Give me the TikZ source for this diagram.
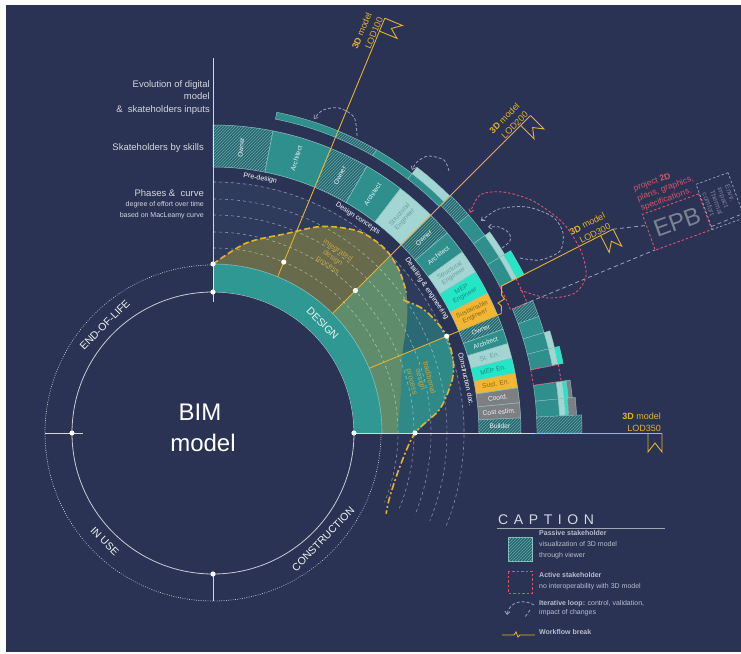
\documentclass[tikz,border=0pt]{standalone}
\usepackage{fontspec}
\setmainfont{Liberation Sans}
\newfontfamily\capfont[LetterSpace=40]{Liberation Sans}
\usetikzlibrary{patterns,arrows.meta}

\definecolor{navy}{HTML}{2A3353}
\definecolor{gridnavy}{HTML}{2F3B5D}
\definecolor{bandteal}{HTML}{2F9893}
\definecolor{architeal}{HTML}{2E8F8C}
\definecolor{hatchteal}{HTML}{2A6670}
\definecolor{hatchline}{HTML}{5FA8A8}
\definecolor{paleteal}{HTML}{A3D6D3}
\definecolor{mepcyan}{HTML}{22E6C6}
\definecolor{sustyellow}{HTML}{F2B632}
\definecolor{coordgrey}{HTML}{7E7F83}
\definecolor{lodgold}{HTML}{E3B22E}
\definecolor{curvegold}{HTML}{C9A43F}
\definecolor{activered}{HTML}{D9546B}
\definecolor{loopgrey}{HTML}{98A2BF}
\definecolor{intolive}{HTML}{676A4B}
\definecolor{intgreen}{HTML}{5F8C6B}
\definecolor{tradteal}{HTML}{2B6A74}
\definecolor{tradmid}{HTML}{2F8987}
\definecolor{labelgrey}{HTML}{D4D7DF}
\definecolor{legendgrey}{HTML}{B9BDCC}
\definecolor{tilelineteal}{HTML}{8FC4C3}
\definecolor{tilewhite}{HTML}{EEF3F3}
\definecolor{structtxt}{HTML}{6C9CA1}
\definecolor{meptxt}{HTML}{1B8C82}
\definecolor{susttxt}{HTML}{8A6A1E}
\definecolor{epbgrey}{HTML}{7D8293}

% ring sector: start angle, end angle, inner radius, outer radius
\newcommand\annul[4]{(#1:#3) arc[start angle=#1, end angle=#2, radius=#3] -- (#2:#4) arc[start angle=#2, end angle=#1, radius=#4] -- cycle}

% LOD flag at the end of a phase line
\newcommand\lodflag[2]{%
  \begin{scope}[rotate=#1]
    \draw[lodline] (435,0) -- (435,-19) -- (442,-10) -- (449,-19) -- (449,0);
    \node[lodlabel, rotate=#1] (#2) at (449,0) {\textbf{3D} model\\#2};
  \end{scope}}

\tikzset{
  kind/.style={#1},
  tile/.style={draw=tilelineteal, line width=.5pt},
  evo/.style={draw=tilelineteal, line width=.4pt},
  hatch/.style={fill=hatchteal, postaction={pattern=north east lines, pattern color=hatchline}},
  archi/.style={fill=architeal},
  struct/.style={fill=paleteal},
  mep/.style={fill=mepcyan},
  sust/.style={fill=sustyellow},
  coord/.style={fill=coordgrey},
  tilelabel/.style={font=\fontsize{6.6}{7}\selectfont, align=center, inner sep=0pt},
  phaselabel/.style={text=white, font=\fontsize{7}{8}\selectfont, inner sep=0pt},
  cyclelabel/.style={text=tilewhite, font=\fontsize{10.5}{12}\selectfont},
  curvelabel/.style={text=curvegold, font=\fontsize{7.5}{9}\selectfont, align=center},
  sidelabel/.style={text=labelgrey, align=right, inner sep=0pt},
  bimtext/.style={text=white, font=\fontsize{24}{26}\selectfont},
  gridarc/.style={white, opacity=.45, line width=.6pt, dash pattern=on 3pt off 3pt},
  axisline/.style={white, opacity=.8, line width=.7pt},
  lodline/.style={lodgold, line width=.9pt},
  lodlabel/.style={anchor=south east, align=right, text=lodgold, font=\fontsize{9}{12}\selectfont, inner sep=1pt},
  integrated/.style={lodgold, line width=1.6pt, dash pattern=on 6pt off 3pt},
  traditional/.style={lodgold, line width=1.6pt, dash pattern=on 7pt off 2.5pt on 2pt off 2.5pt},
  active/.style={activered, line width=.9pt, dash pattern=on 2.5pt off 2pt},
  iterloop/.style={loopgrey, line width=.8pt, dash pattern=on 3pt off 2pt, -{Straight Barb[length=3pt,width=5pt]}},
  greydash/.style={loopgrey, line width=.8pt, dash pattern=on 4pt off 3pt},
  epbbox/.style={draw=activered, line width=.9pt, dash pattern=on 2.5pt off 2pt, fill=navy, text=epbgrey, font=\fontsize{24}{24}\selectfont, inner sep=0pt},
  envbox/.style={draw=loopgrey, line width=.7pt, dash pattern=on 2.5pt off 2pt},
  legendtext/.style={text=legendgrey, font=\fontsize{7}{11}\selectfont, align=left, inner sep=0pt},
}

\begin{document}
\begin{tikzpicture}[x=1pt,y=1pt]
\useasboundingbox (-213,-220) rectangle (528,433);
\fill[white] (-213,-220) rectangle (528,433);
\fill[navy] (-207,-219) rectangle (528,428);

%% LIFE CYCLE
\draw[white, opacity=.75, line width=.8pt, line cap=round, dash pattern=on .3pt off 2pt] (0,0) circle[radius=168];
\draw[white, opacity=.75, line width=.8pt] (0,0) circle[radius=141];

%% PHASES & CURVE
\fill[gridnavy] \annul{0}{90}{169}{252};

% traditional process
\begin{scope}
  \clip (45:169) -- plot[smooth] coordinates {(45:201.5) (40:215) (35:232) (31:243) (27:249) (22.5:253) (17:251) (12.5:245) (6:228) (0:202)} -- (0:169) arc[start angle=0, end angle=45, radius=169] -- cycle;
  \fill[tradmid] \annul{0}{22.5}{160}{262};
  \fill[tradteal] \annul{22.5}{45}{160}{262};
\end{scope}

% integrated process
\begin{scope}
  \clip (0:169) arc[start angle=0, end angle=90, radius=169] -- plot[smooth] coordinates {(90:169) (80:193) (70:212) (62:234) (54:249) (47:252) (41:247) (36:239) (30:224) (23:206) (12:192) (0:184)} -- cycle;
  \fill[intolive] \annul{45}{90}{160}{262};
  \fill[intgreen] \annul{0}{45}{160}{262};
\end{scope}

% effort grid
\foreach \r in {185,201,218,234,251}
  \draw[gridarc] (90:\r) arc[start angle=90, end angle=-22, radius=\r];

% DESIGN band
\fill[bandteal] \annul{0}{90}{141}{169};
\draw[paleteal, opacity=.7, line width=.6pt] (0:169) arc[start angle=0, end angle=90, radius=169];

%% STAKEHOLDERS BY SKILLS
\foreach \a/\b/\k/\c/\t [count=\i] in {
  90/78.75/hatch/tilewhite/Owner, 78.75/67.5/archi/tilewhite/Architect,
  67.5/60/hatch/tilewhite/Owner, 60/52.5/archi/tilewhite/Architect, 52.5/45/struct/structtxt/{Structural\\Engineer},
  45/40.5/hatch/tilewhite/Owner, 40.5/36/archi/tilewhite/Architect, 36/31.5/struct/structtxt/{Structural\\Engineer},
  31.5/27/mep/meptxt/{MEP\\Engineer}, 27/22.5/sust/susttxt/{Sustainable\\Engineer},
  22.5/19.6875/hatch/tilewhite/Owner, 19.6875/16.875/archi/tilewhite/Architect, 16.875/14.0625/struct/structtxt/St. En.,
  14.0625/11.25/mep/meptxt/MEP En., 11.25/8.4375/sust/susttxt/Sust. En., 8.4375/5.625/coord/tilewhite/Coord.,
  5.625/2.8125/coord/tilewhite/Cost estim., 2.8125/0/hatch/tilewhite/Builder}{
  \pgfmathsetmacro\m{(\a+\b)/2}
  \path[tile, kind/.expand once=\k] \annul{\a}{\b}{266}{308};
  \node[tilelabel, text=\c, rotate=\m] (skill\i) at (\m:287) {\t};
}

% phase names
\node[phaselabel, rotate=-10.5] (predesign) at (79.5:259) {Pre-design};
\node[phaselabel, rotate=-34] (concepts) at (56:259) {Design concepts};
\node[phaselabel, rotate=-56] (detailing) at (34:258) {Detailing \& engineering};
\node[phaselabel, rotate=-78] (constrdoc) at (12:259) {Construction doc.};

%% EVOLUTION OF DIGITAL MODEL
\foreach \a/\b/\k/\r/\s in {
  78.75/67.5/archi/320/327,
  67.5/60/hatch/320/327, 60/52.5/archi/320/327, 52.5/45/archi/320/327, 52.5/45/struct/327/335,
  45/40.5/hatch/322/336, 40.5/36/archi/322/336, 36/31.5/archi/322/336, 36/31.5/struct/336/342,
  31.5/27/archi/322/336, 31.5/27/struct/336/341, 31.5/27/mep/341/349,
  22.5/19.6875/hatch/324/346, 19.6875/16.875/archi/324/346,
  16.875/14.0625/archi/324/346, 16.875/14.0625/struct/346/352,
  14.0625/11.25/archi/324/346, 14.0625/11.25/struct/346/352, 14.0625/11.25/mep/352/357,
  8.4375/5.625/archi/324/347, 8.4375/5.625/struct/347/353, 8.4375/5.625/mep/353/357, 8.4375/5.625/coord/357/361,
  5.625/2.8125/archi/324/347, 5.625/2.8125/struct/347/353, 5.625/2.8125/mep/353/356, 5.625/2.8125/coord/356/364,
  2.8125/0/hatch/324/369}
  \path[evo, kind/.expand once=\k] \annul{\a}{\b}{\r}{\s};

% active stakeholders
\draw[active] \annul{27}{22.5}{322}{340};
\draw[active] \annul{11.25}{8.4375}{324}{352};

%% PHASE LINES & LOD
\draw[axisline] (90:141) -- (90:375);
\draw[axisline] (0:141) -- (0:322);
\draw[axisline] (0,141) -- (0,131);
\draw[axisline] (-168,0) -- (-130,0);
\draw[axisline] (0,-141) -- (0,-168);
\draw[greydash] (22.5:336) -- (22.5:570);
\draw[lodline] (67.5:169) -- (67.5:449);
\draw[lodline] (45:169) -- (45:449);
\draw[lodline] (22.5:169) -- (22.5:312) -- (288.4,127) -- (285,130) -- (291.5,134) -- (288.6,138) -- (27:324) -- (27:449);
\draw[lodline] (0:322) -- (0:449);
\lodflag{67.5}{LOD100}
\lodflag{45}{LOD200}
\lodflag{27}{LOD300}
\lodflag{0}{LOD350}

% MacLeamy curves
\draw[integrated] plot[smooth] coordinates {(90:169) (80:193) (70:212) (62:234) (54:249) (47:252) (41:247) (36:239)};
\draw[traditional] plot[smooth] coordinates {(35:232) (31:243) (27:249) (22.5:253) (17:251) (12.5:245) (6:228) (0:202) (-10:190) (-20:188) (-25:191)};
\foreach \p in {(90:141), (0:141), (180:141), (270:141), (90:169), (67.5:185), (45:201.5), (22.5:253), (0:202)}
  \fill[white] \p circle[radius=2.6];

\node[curvelabel, rotate=-34] (intlabel) at (55.6:212) {integrated\\design\\process};
\node[curvelabel, rotate=-75.6] (tradlabel) at (14.4:214) {traditional\\design\\process};

%% ITERATIVE LOOPS
\draw[iterloop] plot[smooth] coordinates {(144,297) (141,316) (126,325) (110,323) (101,314)};
\draw[iterloop] plot[smooth] coordinates {(236,262) (231,273) (215,277) (204,271) (199,263)};
\draw[iterloop] plot[smooth] coordinates {(307,175) (327,173) (347,182) (350,200) (340,216) (314,226) (286,224) (268,212)};
\draw[iterloop] plot[smooth] coordinates {(289,185) (297,192) (296,200) (286,206) (275,206)};
\draw[active, -{Straight Barb[length=3pt,width=5pt]}] plot[smooth] coordinates {(307,143) (335,135) (362,140) (373,157) (368,182) (350,210) (320,232) (290,241) (267,238) (257,220)};

%% EPB
\node[epbbox, rotate=20, minimum width=60pt, minimum height=38pt] (epb) at (464,211) {EPB};
\node[envbox, rotate=20, minimum width=34pt, minimum height=48pt, anchor=south west] (envir) at (epb.south east) {};
\node[text=epbgrey, font=\fontsize{7}{8}\selectfont, align=left, rotate=-70] (envirtext) at (envir.center) {Envir.\\impact\\Thermal\\comfort.};
\node[text=activered, font=\fontsize{8.5}{10.5}\selectfont, align=left, rotate=20, anchor=south west, inner sep=1pt] (plans) at (epb.north west) {project \textbf{2D}\\plans, graphics,\\specifications.};
\draw[greydash] (27:449) -- (epb);

%% CENTRE & LABELS
\node[bimtext] (bim) at (-13,21) {BIM};
\node[bimtext] (model) at (-10,-10) {model};
\node[cyclelabel, rotate=-45] (design) at (45:155) {DESIGN};
\node[cyclelabel, rotate=45] (endoflife) at (135:153) {END-OF-LIFE};
\node[cyclelabel, rotate=-45] (inuse) at (225:153) {IN USE};
\node[cyclelabel, rotate=46] (construction) at (-44:153) {CONSTRUCTION};

\node[sidelabel, anchor=north east, font=\fontsize{9.5}{12.5}\selectfont] (evolution) at (-3,353) {Evolution of digital\\model\\\&\ \ skateholders inputs};
\node[sidelabel, anchor=east, font=\fontsize{9.5}{12}\selectfont] (skills) at (-9,285) {Skateholders by skills};
\node[sidelabel, anchor=east, font=\fontsize{9.5}{12}\selectfont] (phases) at (-9,240) {Phases \&\ \ curve};
\node[sidelabel, anchor=north east, font=\fontsize{7}{11}\selectfont] (effort) at (-9,232) {degree of effort over time\\based on MacLeamy curve};

%% CAPTION
\node[anchor=south west, text=labelgrey, font=\capfont\fontsize{14}{14}\selectfont, inner sep=0pt] (caption) at (285,-92) {CAPTION};
\draw[labelgrey, opacity=.7, line width=.7pt] (284,-95) -- (452,-95);
\path[hatch, draw=tilelineteal, line width=.5pt] (295,-104) rectangle (319,-128);
\node[legendtext, anchor=north west] (passive) at (326,-97) {\textbf{Passive stakeholder}\\visualization of 3D model\\through viewer};
\draw[active] (295,-138) rectangle (319,-160);
\node[legendtext, anchor=north west] (activetxt) at (326,-139) {\textbf{Active stakeholder}\\no interoperability with 3D model};
\draw[iterloop] (321,-172) .. controls (312,-166) and (296,-168) .. (294,-182);
\draw[loopgrey, line width=.8pt, dash pattern=on 3pt off 2pt] (317,-177) -- (312,-184);
\node[legendtext, anchor=north west, font=\fontsize{7}{9.5}\selectfont] (looptxt) at (326,-167) {\textbf{Iterative loop:} control, validation,\\impact of changes};
\draw[lodline] (289,-202) -- (301,-202) -- (303,-199) -- (305,-204) -- (307,-202) -- (322,-202);
\node[legendtext, anchor=west] (breaktxt) at (326,-199) {\textbf{Workflow break}};
\end{tikzpicture}
\end{document}
